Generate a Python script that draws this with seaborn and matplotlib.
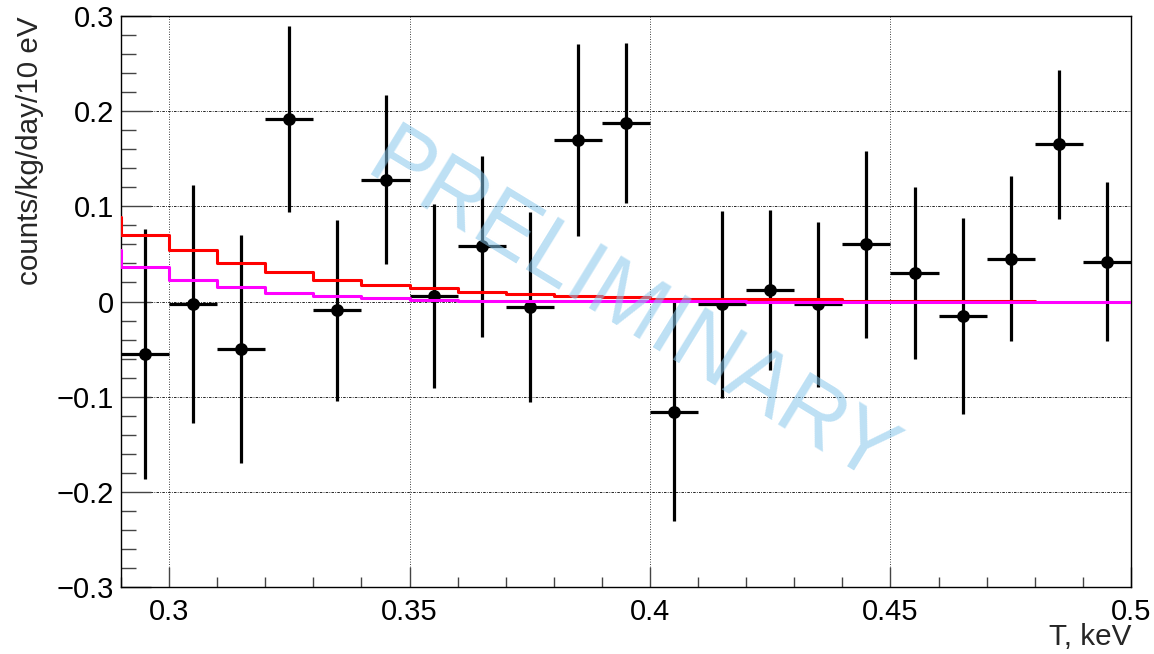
import numpy as np
import matplotlib
matplotlib.use('Agg')
import matplotlib.pyplot as plt
import matplotlib.ticker as mticker
import seaborn as sns

# measured points (bin centres, 10 eV bins)
t_kev = [0.295, 0.305, 0.315, 0.325, 0.335, 0.345, 0.355, 0.365, 0.375, 0.385, 0.395,
         0.405, 0.415, 0.425, 0.435, 0.445, 0.455, 0.465, 0.475, 0.485, 0.495]
rate = [-0.055, -0.003, -0.050, 0.192, -0.009, 0.128, 0.006, 0.058, -0.006, 0.170, 0.188,
        -0.116, -0.003, 0.012, -0.003, 0.060, 0.030, -0.015, 0.045, 0.165, 0.042]
rate_err = [0.131, 0.125, 0.120, 0.098, 0.095, 0.089, 0.097, 0.095, 0.100, 0.101, 0.084,
            0.115, 0.098, 0.084, 0.087, 0.098, 0.090, 0.103, 0.087, 0.078, 0.084]
half_bin = 0.005

# model histograms: left bin edges and contents
red_edges = [0.28, 0.29, 0.30, 0.31, 0.32, 0.33, 0.34, 0.35, 0.36, 0.37, 0.38,
             0.39, 0.40, 0.41, 0.42, 0.43, 0.44, 0.45, 0.46, 0.47, 0.48]
red_vals = [0.089, 0.070, 0.054, 0.041, 0.031, 0.023, 0.017, 0.014, 0.010, 0.008, 0.006,
            0.0045, 0.003, 0.0025, 0.0025, 0.0025, 0.001, 0.001, 0.001, 0.001, 0.001]
mag_edges = [0.28, 0.29, 0.30, 0.31, 0.32, 0.33, 0.34, 0.35, 0.36, 0.37, 0.38, 0.39,
             0.40, 0.41, 0.42, 0.43, 0.44, 0.45, 0.46, 0.47, 0.48, 0.49, 0.50]
mag_vals = [0.054, 0.036, 0.023, 0.015, 0.0093, 0.006, 0.0037, 0.0018, 0.0010, 0.0007,
            0.0005, 0.0003, 0.0002, 0.0001, 0.0, 0.0, 0.0, 0.0, 0.0, 0.0, 0.0, 0.0, 0.0]

x_ticks = [0.30, 0.35, 0.40, 0.45, 0.50]
y_ticks = [-0.3, -0.2, -0.1, 0.0, 0.1, 0.2, 0.3]

sns.set_theme(style='white')
plt.rcParams['font.family'] = ['Liberation Sans', 'DejaVu Sans']

fig, ax = plt.subplots(figsize=(11.54, 6.54), dpi=100)
fig.subplots_adjust(left=0.1049, right=0.980, bottom=0.1024, top=0.9755)

# grid first, data above it
for xv in x_ticks:
    ax.axvline(xv, color='black', lw=0.6, ls=(0, (1, 2)), zorder=0)
for yv in y_ticks:
    ax.axhline(yv, color='black', lw=0.6, ls=(0, (3, 1.5, 1, 1.5)), zorder=0)

ax.errorbar(t_kev, rate, yerr=rate_err, xerr=half_bin, fmt='none',
            ecolor='black', elinewidth=2.3, capsize=0, zorder=2)
sns.scatterplot(x=t_kev, y=rate, color='black', s=85, edgecolor='black',
                linewidth=0, ax=ax, zorder=3)

sns.lineplot(x=red_edges, y=red_vals, drawstyle='steps-post', color='#ff0000',
             lw=2.2, ax=ax, zorder=4)
sns.lineplot(x=mag_edges, y=mag_vals, drawstyle='steps-post', color='#ff00ff',
             lw=2.2, ax=ax, zorder=5)

ax.set_xlim(0.29, 0.50)
ax.set_ylim(-0.3, 0.3)

ax.set_xticks(x_ticks)
ax.set_yticks(y_ticks)
ax.xaxis.set_minor_locator(mticker.MultipleLocator(0.01))
ax.yaxis.set_minor_locator(mticker.MultipleLocator(0.02))
fmt = mticker.FuncFormatter(lambda v, p: f'{v:g}'.replace('-', '\u2212') if abs(v) > 1e-9 else '0')
ax.xaxis.set_major_formatter(fmt)
ax.yaxis.set_major_formatter(fmt)

ax.tick_params(axis='both', which='both', direction='in', colors='#444444',
               labelcolor='black', labelsize=21, width=1,
               bottom=True, left=True, top=False, right=False)
ax.tick_params(axis='x', which='major', length=14.4, pad=8)
ax.tick_params(axis='x', which='minor', length=7.2)
ax.tick_params(axis='y', which='major', length=21.6, pad=5)
ax.tick_params(axis='y', which='minor', length=10.8)
for s in ax.spines.values():
    s.set_color('black')
    s.set_linewidth(1)

ax.set_xlabel('T, keV', fontsize=21.3, loc='right')
ax.set_ylabel('counts/kg/day/10 eV', fontsize=21.3, loc='top')
ax.xaxis.set_label_coords(1.0, -0.063)
ax.yaxis.set_label_coords(-0.076, 1.0)

ax.text(0.505, 0.483, 'PRELIMINARY', transform=ax.transAxes, rotation=-31.5,
        ha='center', va='center', fontsize=64, color='#87c7ec', alpha=0.55,
        rotation_mode='anchor', zorder=6)

plt.savefig('out.png', dpi=100)
